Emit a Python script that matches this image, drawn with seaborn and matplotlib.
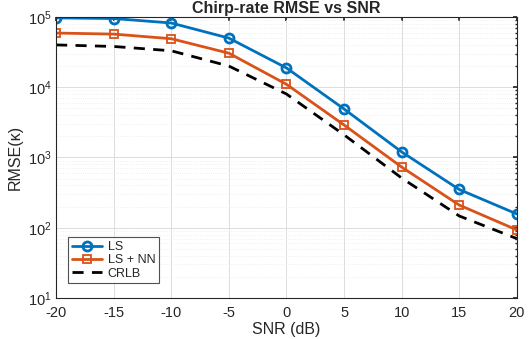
import numpy as np
import pandas as pd
import matplotlib
matplotlib.use('Agg')
import matplotlib.pyplot as plt
import seaborn as sns

snr_db = [-20, -15, -10, -5, 0, 5, 10, 15, 20]
rmse_ls = [9.7e4, 9.5e4, 8.2e4, 5.0e4, 1.88e4, 4.9e3, 1.2e3, 350, 157]
rmse_ls_nn = [5.9e4, 5.7e4, 4.9e4, 3.05e4, 1.1e4, 2.9e3, 730, 210, 93]
rmse_crlb = [4.0e4, 3.8e4, 3.3e4, 2.0e4, 8.0e3, 2.1e3, 510, 147, 70]

sns.set_theme(style='white')
plt.rcParams['font.family'] = ['Liberation Sans', 'DejaVu Sans']
plt.rcParams['axes.unicode_minus'] = False

df = pd.DataFrame({'SNR': snr_db, 'LS': rmse_ls, 'LS + NN': rmse_ls_nn, 'CRLB': rmse_crlb})

fig = plt.figure(figsize=(5.29, 3.39), dpi=100)
ax = fig.add_axes([0.106, 0.121, 0.871, 0.829])

sns.lineplot(data=df, x='SNR', y='LS', ax=ax, color='#0072BD', linewidth=2,
             marker='o', markersize=6.5, markerfacecolor='none', markeredgewidth=2,
             markeredgecolor='#0072BD', label='LS')
sns.lineplot(data=df, x='SNR', y='LS + NN', ax=ax, color='#D95319', linewidth=2,
             marker='s', markersize=5.5, markerfacecolor='none', markeredgewidth=1.3,
             markeredgecolor='#D95319', label='LS + NN')
sns.lineplot(data=df, x='SNR', y='CRLB', ax=ax, color='black', linewidth=2,
             linestyle=(0, (4, 3)), label='CRLB')

ax.set_yscale('log')
ax.set_xlim(-20, 20)
ax.set_ylim(10, 1e5)
ax.set_xticks(range(-20, 21, 5))
ax.set_xticklabels([str(v) for v in range(-20, 21, 5)])
ax.grid(True, which='major', color='#dcdcdc', linewidth=0.7)
ax.grid(True, which='minor', color='#ececec', linewidth=0.6, linestyle=':')
ax.tick_params(axis='both', which='both', direction='in', labelsize=10.5, colors='#262626',
               top=True, right=True, length=3)
ax.tick_params(axis='x', which='major', pad=6)
ax.tick_params(axis='y', which='major', pad=3)
ax.tick_params(axis='y', which='minor', length=1.5)
for s in ax.spines.values():
    s.set_color('#262626')
    s.set_linewidth(0.8)

ax.set_xlabel('SNR (dB)', fontsize=11.5, color='#262626', labelpad=1)
ax.set_ylabel('RMSE(κ)', fontsize=11.5, color='#262626', labelpad=4)
ax.set_title('Chirp-rate RMSE vs SNR', fontsize=11.5, fontweight='bold', color='#262626', pad=3)

leg = ax.legend(loc='lower left', fontsize=9, frameon=True, fancybox=False,
                borderpad=0.3, labelspacing=0.1, handlelength=2.4, handletextpad=0.5,
                bbox_to_anchor=(0.012, 0.03))
leg.get_frame().set_edgecolor('#262626')
leg.get_frame().set_linewidth(0.8)

fig.savefig('out.png', dpi=100)
